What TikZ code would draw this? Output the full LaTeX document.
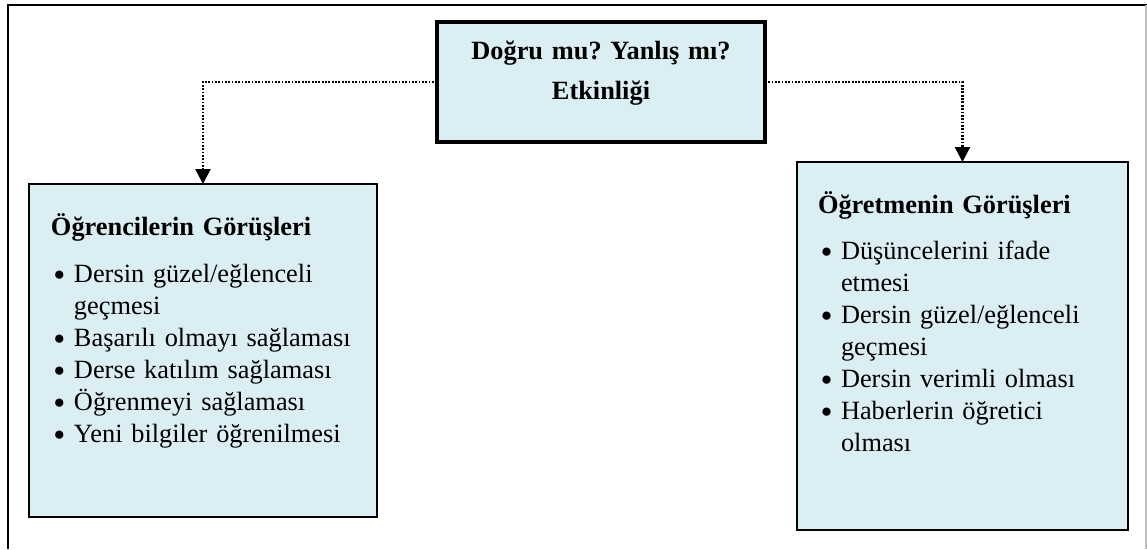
\documentclass[tikz,border=0pt]{standalone}
\usepackage{fontspec}
\setmainfont{Liberation Serif}
\usetikzlibrary{positioning}
\usetikzlibrary{arrows.meta}
\definecolor{kutumavi}{RGB}{219,238,244}
\newcommand{\madde}{\par\hangindent=0.46cm\hangafter=1\noindent\makebox[0.46cm][l]{\hspace{0.05cm}\smash{\raisebox{-0.13em}{\scalebox{1.3}{\textbullet}}}}}
\frenchspacing

\begin{document}
\begin{tikzpicture}[x=0.02cm, y=-0.02cm,
    every node/.style={inner sep=0pt, outer sep=0pt},
    kutu/.style={draw, fill=kutumavi, line width=1.3pt},
    metin/.style={align=left, anchor=base west, font=\fontsize{15pt}{18.2pt}\selectfont},
    ok/.style={-{Triangle[length=8.5pt, width=8.5pt]}, line width=1.3pt, dash pattern=on 1pt off 0.9pt}]
    \useasboundingbox (0,0) rectangle (1147,549);
    % cerceve
    \draw[line width=1.1pt] (8,549) -- (8,5) -- (1147,5);
    \draw[black!25, line width=0.6pt] (1146,5) -- (1146,549);

    \node (etkinlik) [kutu, line width=2.2pt, minimum width=6.56cm, minimum height=2.4cm] at (601,82) {};
    \node (etkinlikad) [metin, anchor=base, align=center, text width=6cm, font=\fontsize{15pt}{23.3pt}\selectfont\bfseries] at (601,59) {Doğru mu? Yanlış mı?\\Etkinliği};

    \node (ogrenci) [kutu, minimum width=6.96cm, minimum height=6.66cm, anchor=north west] at (29,184) {};
    \node (ogrenciad) [metin, text width=6.2cm] at ([shift={(22,51)}]ogrenci.north west) {%
        {\bfseries Öğrencilerin Görüşleri}\par\vspace{0.32cm}
        \madde Dersin güzel/eğlenceli\newline geçmesi
        \madde Başarılı olmayı sağlaması
        \madde Derse katılım sağlaması
        \madde Öğrenmeyi sağlaması
        \madde Yeni bilgiler öğrenilmesi\par};

    \node (ogretmen) [kutu, minimum width=6.62cm, minimum height=7.36cm, anchor=north west] at (797,162) {};
    \node (ogretmenad) [metin, text width=5.9cm] at ([shift={(21,51)}]ogretmen.north west) {%
        {\bfseries Öğretmenin Görüşleri}\par\vspace{0.3cm}
        \madde Düşüncelerini ifade\newline etmesi
        \madde Dersin güzel/eğlenceli\newline geçmesi
        \madde Dersin verimli olması
        \madde Haberlerin öğretici\newline olması\par};

    \draw[ok] (etkinlik.west) -| (ogrenci.north);
    \draw[ok] (etkinlik.east) -| (ogretmen.north);
\end{tikzpicture}
\end{document}
